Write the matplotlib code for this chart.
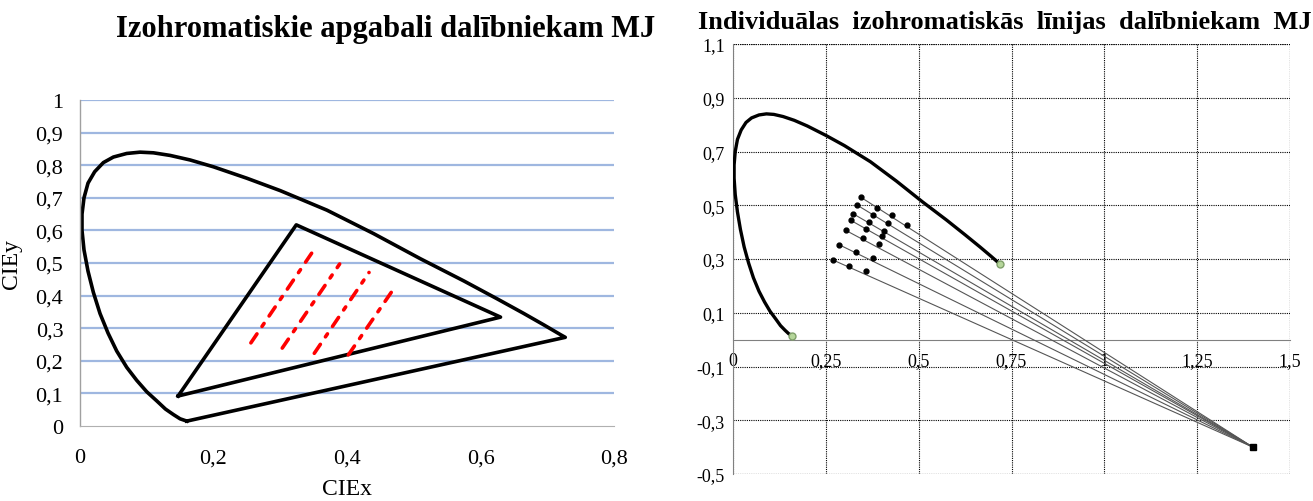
import matplotlib.pyplot as plt

# ---- dati ----
# spektralais lokuss (CIE 1931), nolasits no attela
locus_x = [0.160, 0.150, 0.140, 0.128, 0.115, 0.100, 0.085, 0.070, 0.055, 0.042,
           0.030, 0.020, 0.012, 0.006, 0.003, 0.003, 0.006, 0.012, 0.022, 0.035,
           0.050, 0.070, 0.090, 0.110, 0.135, 0.165, 0.200, 0.250, 0.300, 0.370,
           0.440, 0.510, 0.575, 0.625, 0.665, 0.695, 0.720]
locus_y = [0.015, 0.022, 0.035, 0.052, 0.077, 0.105, 0.140, 0.180, 0.230, 0.285,
           0.345, 0.410, 0.475, 0.540, 0.600, 0.650, 0.700, 0.745, 0.780, 0.808,
           0.825, 0.836, 0.840, 0.838, 0.830, 0.816, 0.795, 0.760, 0.722, 0.662,
           0.590, 0.513, 0.445, 0.390, 0.345, 0.310, 0.280]
locus_end_x = 0.727
locus_end_y = 0.272

# monitora trijsturis
tri_x = [0.147, 0.324, 0.630, 0.147]
tri_y = [0.092, 0.617, 0.334, 0.092]

# izohromatiskie apgabali (sarkanas linijas) - sakuma un beigu punkti
iso_x0 = [0.256, 0.303, 0.351, 0.402]
iso_y0 = [0.255, 0.239, 0.223, 0.218]
iso_x1 = [0.347, 0.389, 0.433, 0.472]
iso_y1 = [0.530, 0.497, 0.471, 0.427]

# individualas izohromatiskas linijas - punkti uz katras linijas
lines_x = [
    [0.345, 0.387, 0.429, 0.469],
    [0.335, 0.377, 0.418],
    [0.324, 0.366, 0.407],
    [0.317, 0.359, 0.401],
    [0.303, 0.349, 0.394],
    [0.286, 0.332, 0.376],
    [0.268, 0.313, 0.358],
]
lines_y = [
    [0.529, 0.491, 0.464, 0.427],
    [0.500, 0.464, 0.433],
    [0.468, 0.439, 0.405],
    [0.444, 0.412, 0.384],
    [0.407, 0.379, 0.356],
    [0.353, 0.327, 0.305],
    [0.297, 0.274, 0.254],
]
# kopeja konvergences punkts
conv_x = 1.40
conv_y = -0.40

left_yticks = [0, 0.1, 0.2, 0.3, 0.4, 0.5, 0.6, 0.7, 0.8, 0.9, 1.0]
left_ylabels = ['0', '0,1', '0,2', '0,3', '0,4', '0,5', '0,6', '0,7', '0,8', '0,9', '1']
left_xticks = [0, 0.2, 0.4, 0.6, 0.8]
left_xlabels = ['0', '0,2', '0,4', '0,6', '0,8']

right_xticks = [0, 0.25, 0.5, 0.75, 1.0, 1.25, 1.5]
right_xlabels = ['0', '0,25', '0,5', '0,75', '1', '1,25', '1,5']
right_yticks = [-0.5, -0.3, -0.1, 0.1, 0.3, 0.5, 0.7, 0.9, 1.1]
right_ylabels = ['-0,5', '-0,3', '-0,1', '0,1', '0,3', '0,5', '0,7', '0,9', '1,1']

plt.rcParams['font.family'] = ['Liberation Serif', 'DejaVu Serif']

fig = plt.figure(figsize=(13.13, 5.02), dpi=100)

# ============================================
# KREISAIS grafiks
# ============================================
ax1 = fig.add_axes([80 / 1313, 75 / 502, 534 / 1313, 326 / 502])
ax1.set_xlim(0, 0.8)
ax1.set_ylim(0, 1)
ax1.set_yticks(left_yticks)
ax1.set_yticklabels(left_ylabels, fontsize=16)
ax1.set_xticks(left_xticks)
ax1.set_xticklabels(left_xlabels, fontsize=16)
ax1.tick_params(length=0, pad=12)
ax1.tick_params(axis='x', pad=16)
for yv in left_yticks[1:]:
    ax1.axhline(yv, color='#9fb7e0', lw=1.6, zorder=0)
for s in ['top', 'right']:
    ax1.spines[s].set_visible(False)
ax1.spines['left'].set_color('#a0a0a0')
ax1.spines['bottom'].set_color('#b0b0b0')
ax1.spines['left'].set_linewidth(1.0)

# lokuss + purpura linija
ax1.plot(locus_x + [locus_end_x, locus_x[0]], locus_y + [locus_end_y, locus_y[0]],
         color='black', lw=2.6, solid_joinstyle='round')
ax1.plot(tri_x, tri_y, color='black', lw=2.6)
for i in range(len(iso_x0)):
    ax1.plot([iso_x0[i], iso_x1[i]], [iso_y0[i], iso_y1[i]], color='#ff0000',
             lw=2.6, dashes=(3, 2.5, 1, 2.5), dash_capstyle='round')

ax1.set_xlabel('CIEx', fontsize=17, labelpad=8)
ax1.set_ylabel('CIEy', fontsize=17, labelpad=10)
fig.text(386 / 1313, 1 - 30 / 502, 'Izohromatiskie apgabali dalībniekam MJ',
         ha='center', va='center', fontsize=22, fontweight='bold')

# ============================================
# LABAIS grafiks
# ============================================
ax2 = fig.add_axes([733 / 1313, 27 / 502, 557 / 1313, 430 / 502])
ax2.spines['bottom'].set_position(('data', 0))
ax2.spines['bottom'].set_color('#808080')
ax2.spines['left'].set_color('#808080')
for s in ['top', 'right']:
    ax2.spines[s].set_visible(False)
ax2.set_xlim(0, 1.5)
ax2.set_ylim(-0.5, 1.1)
ax2.set_xticks(right_xticks)
ax2.set_xticklabels(right_xlabels, fontsize=13)
ax2.set_yticks(right_yticks)
ax2.set_yticklabels(right_ylabels, fontsize=13)
ax2.tick_params(length=0)
ax2.tick_params(axis='y', pad=6)
ax2.tick_params(axis='x', pad=9)
ax2.grid(True, color='black', linestyle=(0, (1, 1)), lw=0.8)
ax2.axhline(1.1, color='black', ls=(0, (1, 1)), lw=0.8)
ax2.axhline(-0.5, color='black', ls=(0, (1, 1)), lw=0.8)
ax2.axvline(1.5, color='black', ls=(0, (1, 1)), lw=0.8)
for lbl in ax2.get_xticklabels():
    lbl.set_zorder(5)

ax2.plot(locus_x, locus_y, color='black', lw=2.4, solid_joinstyle='round', zorder=4)
ax2.plot([locus_x[0], locus_x[-1]], [locus_y[0], locus_y[-1]], ls='none',
         marker='o', ms=5, mfc='#b5d69a', mec='#7f9f6a', zorder=5)

for lx, ly in zip(lines_x, lines_y):
    ax2.plot([lx[0], conv_x], [ly[0], conv_y], color='#555555', lw=0.8, zorder=3)
    ax2.plot(lx, ly, ls='none', marker='o', ms=3.5, color='black', zorder=4)
ax2.plot([conv_x], [conv_y], ls='none', marker='s', ms=4, color='black', zorder=4)

fig.text(1005 / 1313, 1 - 23 / 502,
         'Individuālas  izohromatiskās  līnijas  dalībniekam  MJ',
         ha='center', va='center', fontsize=19, fontweight='bold')

fig.savefig('out.png', dpi=100)
